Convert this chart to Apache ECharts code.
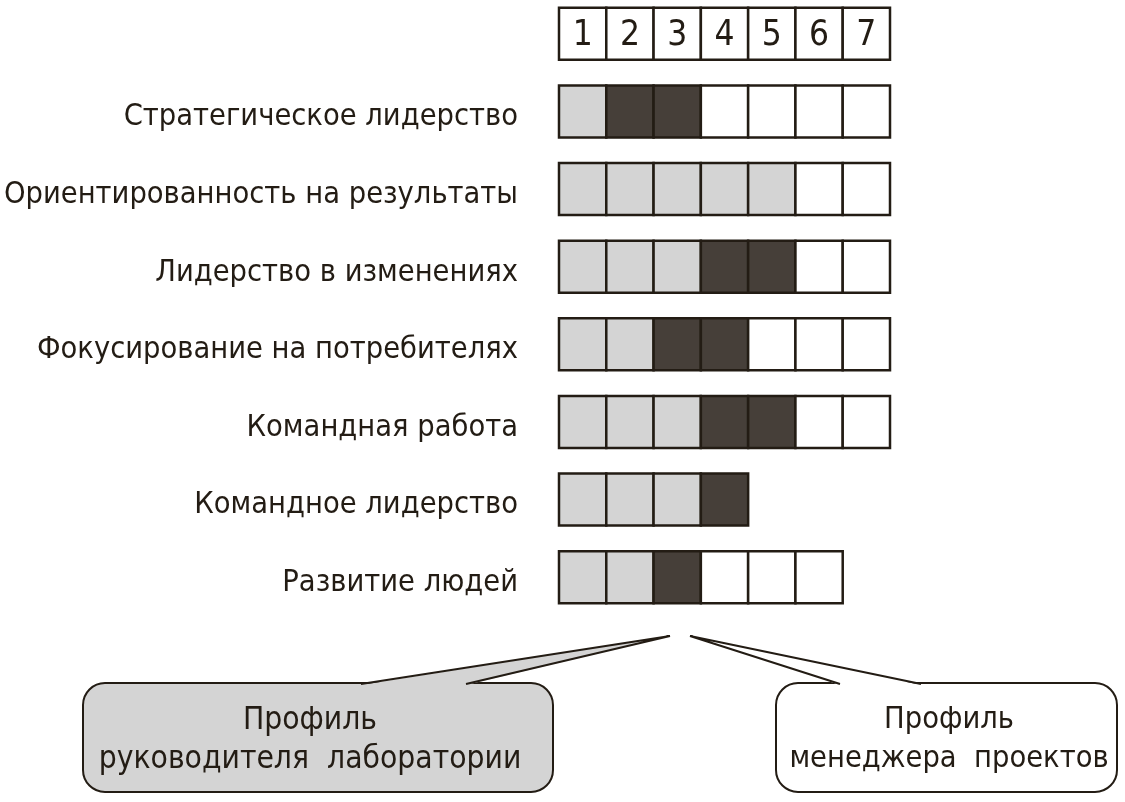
<!DOCTYPE html>
<html>
<head>
<meta charset="utf-8">
<title>Профили компетенций</title>
<script src="https://cdn.jsdelivr.net/npm/echarts@6/dist/echarts.min.js"></script>
<style>
    html, body { margin: 0; padding: 0; background: #fff; }
    #chart { width: 1125px; height: 802px; }
</style>
</head>
<body>
<div id="chart"></div>
<script>
    // шкала уровней (шапка)
    var levels = ['1', '2', '3', '4', '5', '6', '7'];
    // компетенции
    var competencies = [
        'Стратегическое лидерство',
        'Ориентированность на результаты',
        'Лидерство в изменениях',
        'Фокусирование на потребителях',
        'Командная работа',
        'Командное лидерство',
        'Развитие людей'
    ];
    // число светлых клеток (профиль руководителя лаборатории)
    var lightCells = [1, 5, 3, 2, 3, 3, 2];
    // число тёмных клеток (профиль менеджера проектов)
    var darkCells = [2, 0, 2, 2, 2, 1, 1];
    // всего клеток в строке
    var totalCells = [7, 7, 7, 7, 7, 4, 6];

    var FONT = "'Liberation Sans Narrow', 'DejaVu Sans Condensed', sans-serif";
    var INK = '#231c14';
    var colors = ['#ffffff', '#d4d4d4', '#463f39'];

    // строим клетки: [колонка, строка, тип]; строка 0 - шапка
    var cells = [];
    levels.forEach(function (l, i) { cells.push([i, 0, 3]); });
    competencies.forEach(function (c, r) {
        for (var i = 0; i < totalCells[r]; i++) {
            var kind = 0;
            if (i < lightCells[r]) kind = 1;
            else if (i < lightCells[r] + darkCells[r]) kind = 2;
            cells.push([i, r + 1, kind]);
        }
    });

    var chart = echarts.init(document.getElementById('chart'));
    var option = {
        animation: false,
        grid: { left: 559, right: 235, top: -5, bottom: 186, outerBoundsMode: 'none', containLabel: false },
        xAxis: {
            type: 'category',
            data: levels,
            show: false
        },
        yAxis: {
            type: 'category',
            inverse: true,
            data: [''].concat(competencies),
            axisLine: { show: false },
            axisTick: { show: false },
            splitLine: { show: false },
            axisLabel: {
                margin: 41,
                fontSize: 30.5,
                fontFamily: FONT,
                color: INK,
                verticalAlign: 'top',
                lineHeight: 12
            }
        },
        series: [{
            type: 'custom',
            data: cells,
            renderItem: function (params, api) {
                var c = api.coord([api.value(0), api.value(1)]);
                var size = api.size([1, 1]);
                var kind = api.value(2);
                var h = 52;
                var rect = {
                    type: 'rect',
                    shape: { x: c[0] - size[0] / 2, y: c[1] - h / 2, width: size[0], height: h },
                    style: {
                        fill: kind === 3 ? '#fff' : colors[kind],
                        stroke: INK,
                        lineWidth: 2.5
                    }
                };
                if (kind !== 3) return rect;
                return {
                    type: 'group',
                    children: [rect, {
                        type: 'text',
                        style: {
                            text: levels[api.value(0)],
                            x: c[0],
                            y: c[1] + 2,
                            align: 'center',
                            verticalAlign: 'middle',
                            fontSize: 35,
                            fontFamily: FONT,
                            fill: INK
                        }
                    }]
                };
            }
        }],
        graphic: [
            // левая выноска
            { type: 'rect', shape: { x: 83, y: 683, width: 470, height: 109, r: 22 },
              style: { fill: '#d4d4d4', stroke: INK, lineWidth: 2 } },
            { type: 'polygon', shape: { points: [[361, 685], [670, 636], [466, 685]] },
              style: { fill: '#d4d4d4' } },
            { type: 'polyline', shape: { points: [[361, 684], [670, 636], [466, 684]] },
              style: { stroke: INK, lineWidth: 2, fill: null } },
            { type: 'text', style: { text: 'Профиль\nруководителя  лаборатории', x: 310, y: 740,
              align: 'center', verticalAlign: 'middle', lineHeight: 39, fontSize: 31.5, fontFamily: FONT, fill: INK } },
            // правая выноска
            { type: 'rect', shape: { x: 776, y: 683, width: 341, height: 109, r: 22 },
              style: { fill: '#fff', stroke: INK, lineWidth: 2 } },
            { type: 'polygon', shape: { points: [[840, 685], [690, 636], [921, 685]] },
              style: { fill: '#fff' } },
            { type: 'polyline', shape: { points: [[840, 684], [690, 636], [921, 684]] },
              style: { stroke: INK, lineWidth: 2, fill: null } },
            { type: 'text', style: { text: 'Профиль\nменеджера  проектов', x: 949, y: 740,
              align: 'center', verticalAlign: 'middle', lineHeight: 39, fontSize: 30.5, fontFamily: FONT, fill: INK } }
        ]
    };
    chart.setOption(option);
</script>
</body>
</html>
